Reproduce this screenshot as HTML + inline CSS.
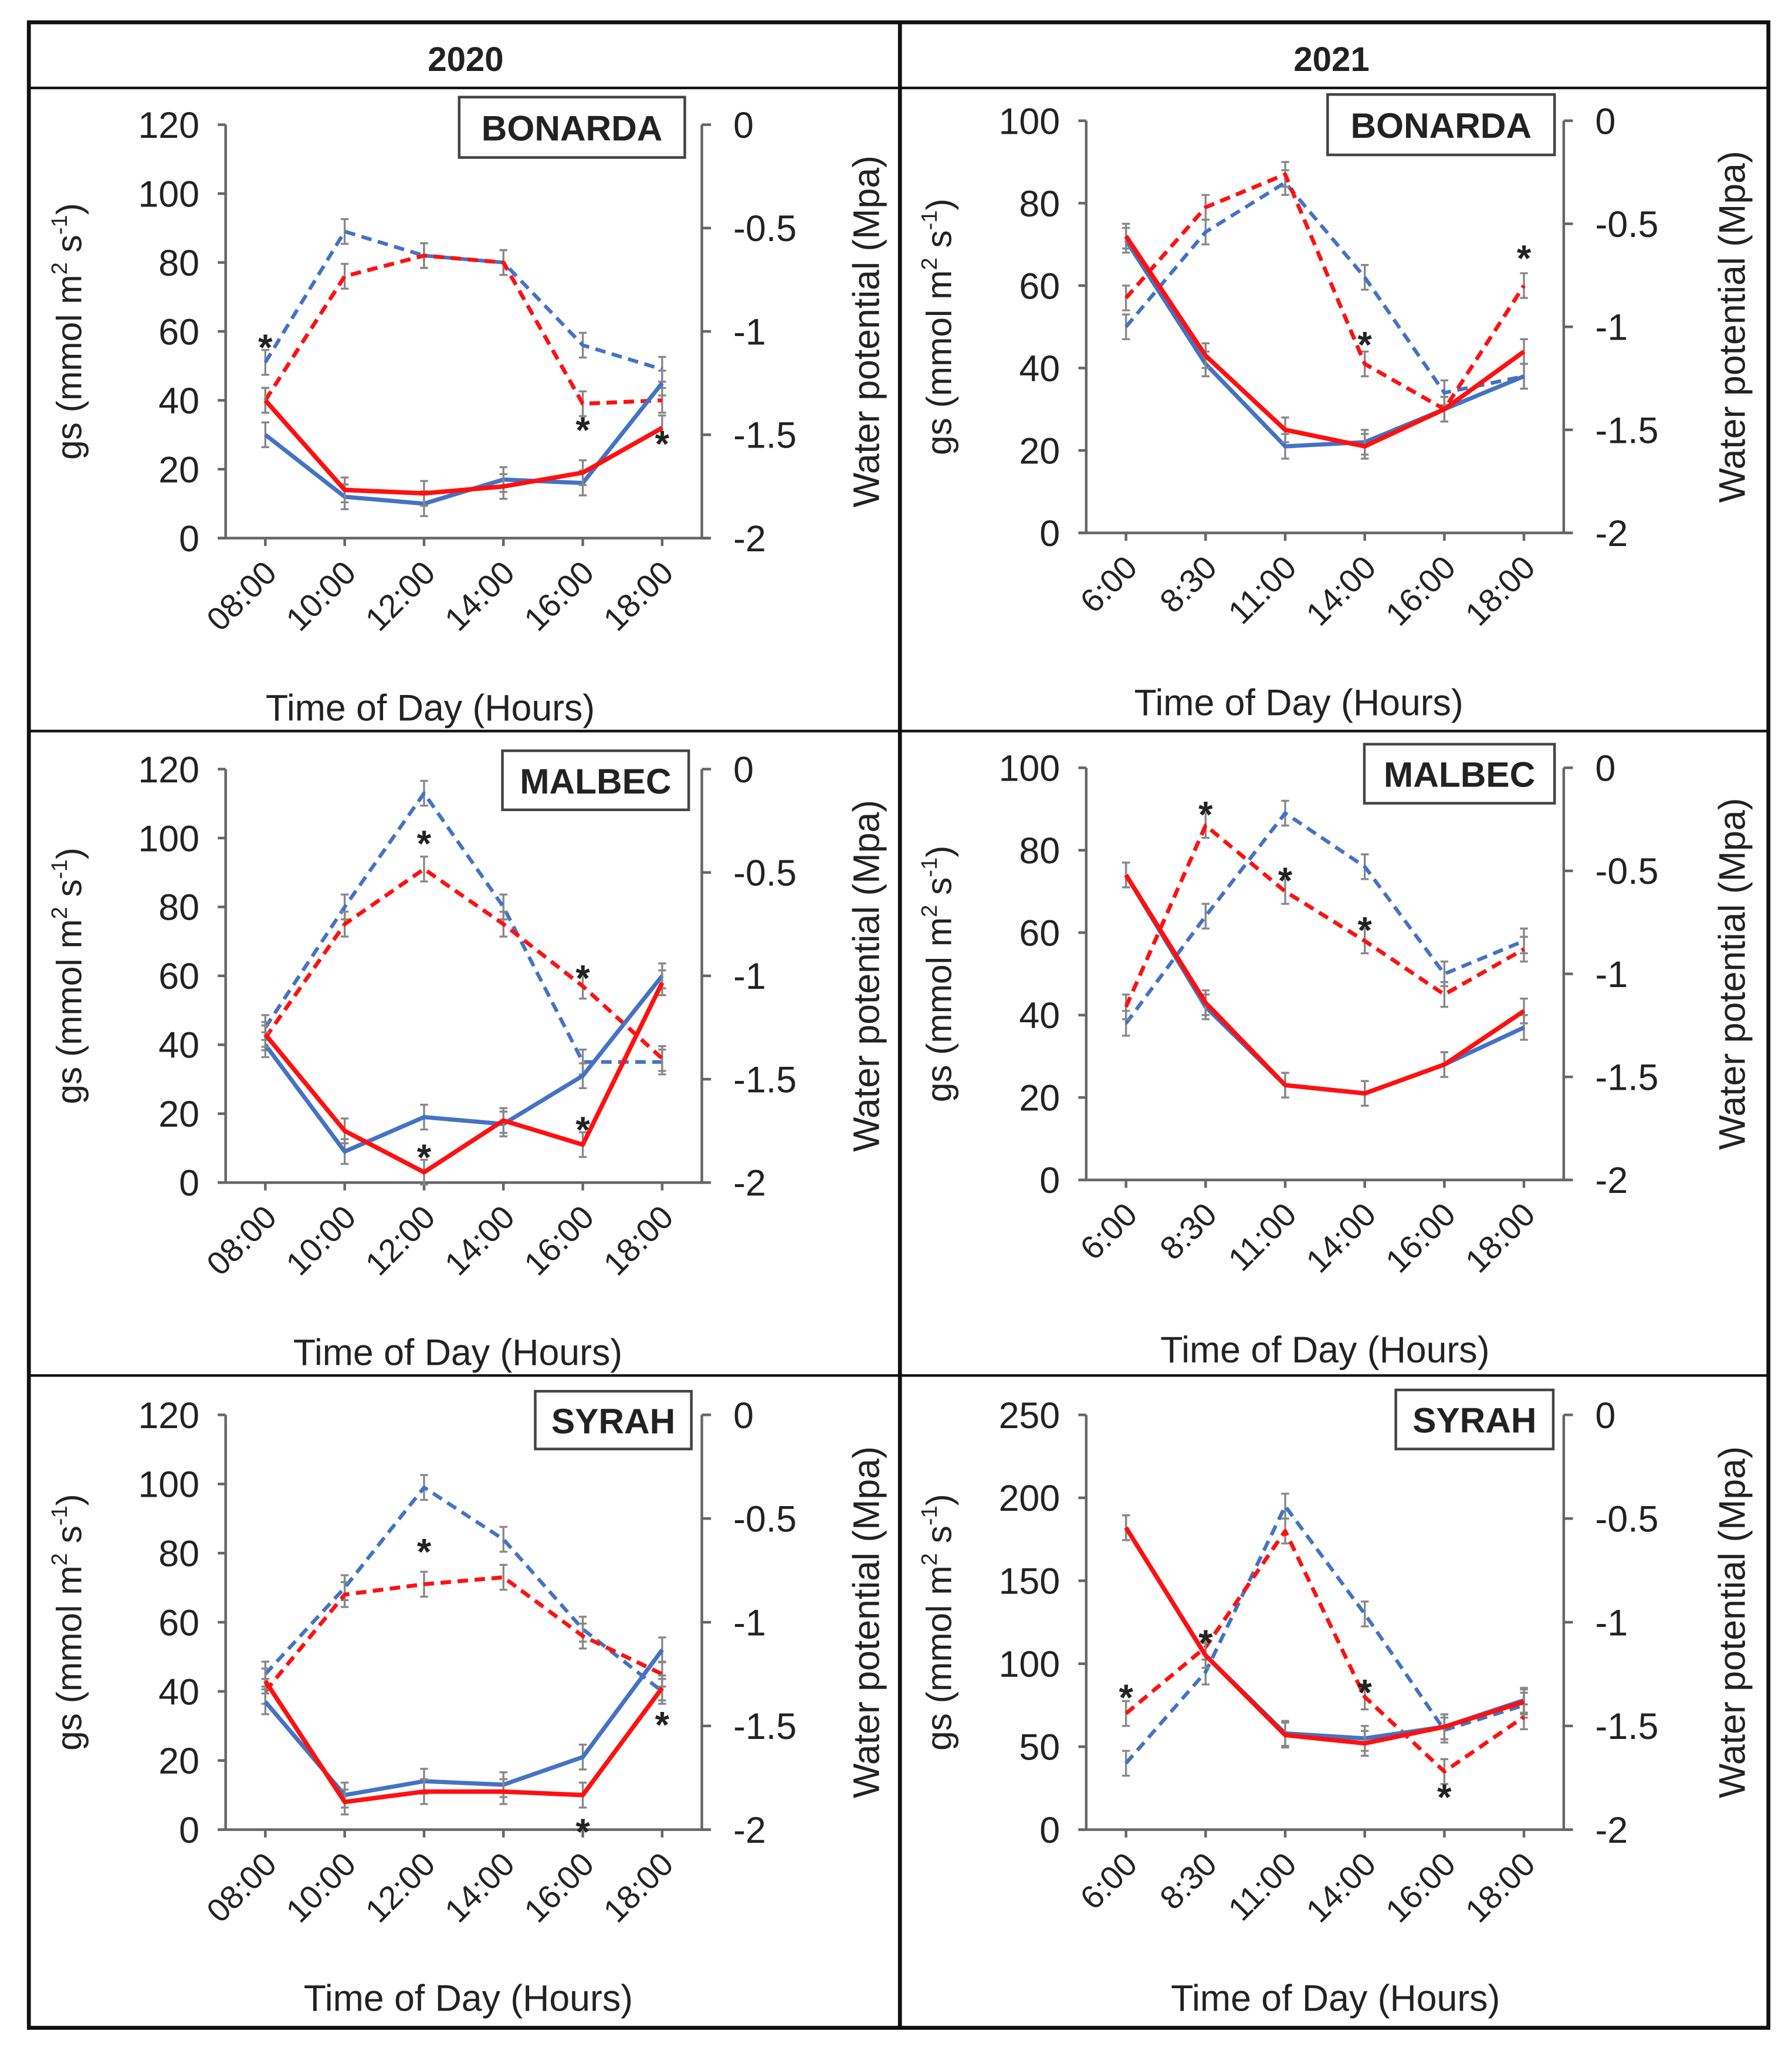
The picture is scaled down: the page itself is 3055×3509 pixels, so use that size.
<!DOCTYPE html>
<html><head><meta charset="utf-8"><style>
html,body{margin:0;padding:0;background:#fff;}
svg{display:block;}
text{font-family:"Liberation Sans",sans-serif;fill:#222;}
</style></head><body>
<svg id="fig" xmlns="http://www.w3.org/2000/svg" width="3055" height="3509" viewBox="0 0 1366 1568" preserveAspectRatio="none">
<rect x="0" y="0" width="1366" height="1568" fill="#fff"/>
<rect x="22" y="17" width="1326" height="1528" fill="none" stroke="#111" stroke-width="3"/>
<line x1="686" y1="17" x2="686" y2="1545" stroke="#111" stroke-width="3"/>
<line x1="22" y1="67" x2="1348" y2="67" stroke="#111" stroke-width="2"/>
<line x1="22" y1="557" x2="1348" y2="557" stroke="#111" stroke-width="2"/>
<line x1="22" y1="1048" x2="1348" y2="1048" stroke="#111" stroke-width="2"/>
<text x="355" y="54" font-size="26" font-weight="bold" text-anchor="middle">2020</text>
<text x="1015" y="54" font-size="26" font-weight="bold" text-anchor="middle">2021</text>
</svg>
<script>
const cats2020 = ["08:00","10:00","12:00","14:00","16:00","18:00"];
const cats2021 = ["6:00","8:30","11:00","14:00","16:00","18:00"];
const rightTicks = ["0","-0.5","-1","-1.5","-2"];

const bon20BlueDash = [51,89,82,80,56,49];
const bon20RedDash  = [40,76,82,80,39,40];
const bon20BlueSol  = [30,12,10,17,16,45];
const bon20RedSol   = [40,14,13,15,19,32];
const bon20Stars    = [[0,57],[4,33],[5,29]];

const bon21BlueDash = [50,73,85,62,34,38];
const bon21RedDash  = [57,79,87,41,30,60];
const bon21BlueSol  = [71,41,21,22,30,38];
const bon21RedSol   = [72,43,25,21,30,44];
const bon21Stars    = [[3,47],[5,68]];

const mal20BlueDash = [45,80,113,80,35,35];
const mal20RedDash  = [42,75,91,75,57,36];
const mal20BlueSol  = [40,9,19,17,31,60];
const mal20RedSol   = [43,15,3,18,11,58];
const mal20Stars    = [[2,100],[2,9],[4,61],[4,17]];

const mal21BlueDash = [38,64,89,76,50,58];
const mal21RedDash  = [42,86,70,58,45,56];
const mal21BlueSol  = [74,42,23,21,28,37];
const mal21RedSol   = [74,43,23,21,28,41];
const mal21Stars    = [[1,90],[2,74],[3,62]];

const syr20BlueDash = [45,70,99,84,58,40];
const syr20RedDash  = [40,68,71,73,56,45];
const syr20BlueSol  = [37,10,14,13,21,52];
const syr20RedSol   = [43,8,11,11,10,41];
const syr20Stars    = [[2,82],[4,1],[5,32]];

const syr21BlueDash = [40,95,195,130,60,75];
const syr21RedDash  = [70,110,180,80,35,68];
const syr21BlueSol  = [182,105,58,55,62,78];
const syr21RedSol   = [182,105,57,52,62,77];
const syr21Stars    = [[0,83],[1,116],[3,86],[4,23]];

const ticks120 = [0,20,40,60,80,100,120];
const ticks100 = [0,20,40,60,80,100];
const ticks250 = [0,50,100,150,200,250];

const panels = [
 {id:"bonarda-2020",name:"BONARDA",cats:cats2020,ticks:ticks120,x0:172,x1:535,yb:410,yt:95,box:[350,74,172,46],title:540,tx:328,lt:62,rt:660,s:[bon20BlueDash,bon20RedDash,bon20BlueSol,bon20RedSol],stars:bon20Stars},
 {id:"bonarda-2021",name:"BONARDA",cats:cats2021,ticks:ticks100,x0:828,x1:1192,yb:406,yt:92,box:[1012,72,173,46],title:536,tx:990,lt:725,rt:1320,s:[bon21BlueDash,bon21RedDash,bon21BlueSol,bon21RedSol],stars:bon21Stars},
 {id:"malbec-2020",name:"MALBEC",cats:cats2020,ticks:ticks120,x0:172,x1:535,yb:901,yt:586,box:[383,572,142,45],title:1031,tx:349,lt:62,rt:660,s:[mal20BlueDash,mal20RedDash,mal20BlueSol,mal20RedSol],stars:mal20Stars},
 {id:"malbec-2021",name:"MALBEC",cats:cats2021,ticks:ticks100,x0:828,x1:1192,yb:899,yt:585,box:[1040,567,145,45],title:1029,tx:1010,lt:725,rt:1320,s:[mal21BlueDash,mal21RedDash,mal21BlueSol,mal21RedSol],stars:mal21Stars},
 {id:"syrah-2020",name:"SYRAH",cats:cats2020,ticks:ticks120,x0:172,x1:535,yb:1394,yt:1078,box:[408,1060,119,44],title:1523,tx:357,lt:62,rt:660,s:[syr20BlueDash,syr20RedDash,syr20BlueSol,syr20RedSol],stars:syr20Stars},
 {id:"syrah-2021",name:"SYRAH",cats:cats2021,ticks:ticks250,x0:828,x1:1192,yb:1394,yt:1078,box:[1064,1059,120,45],title:1523,tx:1018,lt:725,rt:1320,s:[syr21BlueDash,syr21RedDash,syr21BlueSol,syr21RedSol],stars:syr21Stars}
];
const seriesStyle = [
 {c:"#4472C4",d:"8,5",w:2.8,n:"blue-dashed"},
 {c:"#FF1010",d:"8,5",w:3,n:"red-dashed"},
 {c:"#4472C4",d:"",w:3.2,n:"blue-solid"},
 {c:"#FF1010",d:"",w:3.4,n:"red-solid"}
];
const NS="http://www.w3.org/2000/svg";
const svg=document.getElementById("fig");
function mk(tag,attrs,parent){const e=document.createElementNS(NS,tag);for(const k in attrs)e.setAttribute(k,attrs[k]);(parent||svg).appendChild(e);return e;}

panels.forEach(p=>{
 const g=mk("g",{});
 
 
 const max=p.ticks[p.ticks.length-1];
 const n=p.cats.length, bw=(p.x1-p.x0)/n;
 const xs=i=>p.x0+bw*(i+0.5);
 const ys=v=>p.yb-(v/max)*(p.yb-p.yt);
 const la=mk("line",{x1:p.x0,y1:p.yt,x2:p.x0,y2:p.yb,stroke:"#666","stroke-width":2},g);
 
 
 const ra=mk("line",{x1:p.x1,y1:p.yt,x2:p.x1,y2:p.yb,stroke:"#666","stroke-width":2},g);
 
 
 const xa=mk("line",{x1:p.x0-6,y1:p.yb,x2:p.x1+6,y2:p.yb,stroke:"#666","stroke-width":2},g);
 
 
 p.ticks.forEach(t=>{
  mk("line",{x1:p.x0-6,y1:ys(t),x2:p.x0,y2:ys(t),stroke:"#666","stroke-width":2},g);
  const tl=mk("text",{x:p.x0-20,y:ys(t)+10,"font-size":28,"text-anchor":"end"},g);
  tl.textContent=t;
  
  
 });
 rightTicks.forEach((t,i)=>{
  const y=p.yt+i*(p.yb-p.yt)/(rightTicks.length-1);
  mk("line",{x1:p.x1,y1:y,x2:p.x1+7,y2:y,stroke:"#666","stroke-width":2},g);
  const tl=mk("text",{x:p.x1+24,y:y+10,"font-size":28},g);
  tl.textContent=t;
  
  
 });
 p.cats.forEach((c,i)=>{
  const x=xs(i);
  mk("line",{x1:x,y1:p.yb,x2:x,y2:p.yb+6,stroke:"#666","stroke-width":2},g);
  const tl=mk("text",{x:x+10,y:p.yb+28,"font-size":25,"text-anchor":"end",transform:`rotate(-45 ${x+10} ${p.yb+28})`},g);
  tl.textContent=c;
  
  
 });
 const cy=(p.yt+p.yb)/2;
 const lt=mk("text",{x:p.lt,y:cy,"font-size":27,"text-anchor":"middle",transform:`rotate(-90 ${p.lt} ${cy})`},g);
 lt.innerHTML='gs (mmol m<tspan font-size="17" dy="-11">2</tspan><tspan dy="11"> s</tspan><tspan font-size="17" dy="-11">-1</tspan><tspan dy="11">)</tspan>';
 
 
 const rt=mk("text",{x:p.rt+10,y:cy,"font-size":28,"text-anchor":"middle",transform:`rotate(-90 ${p.rt+10} ${cy})`},g);
 rt.textContent="Water potential (Mpa)";
 
 
 const xt=mk("text",{x:p.tx,y:p.title+9,"font-size":28,"text-anchor":"middle"},g);
 xt.textContent="Time of Day (Hours)";
 
 
 const b=p.box;
 const br=mk("rect",{x:b[0],y:b[1],width:b[2],height:b[3],fill:"#fff",stroke:"#444","stroke-width":2},g);
 
 
 const bt=mk("text",{x:b[0]+b[2]/2,y:b[1]+b[3]/2+10,"font-size":27,"font-weight":"bold","text-anchor":"middle"},g);
 bt.textContent=p.name;
 
 
 p.s.forEach((vals,si)=>{
  const st=seriesStyle[si];
  const err=max*0.03;
  vals.forEach((v,i)=>{
   const x=xs(i);
   const e=mk("path",{d:`M${x} ${ys(v-err)}V${ys(v+err)}M${x-3} ${ys(v-err)}h6M${x-3} ${ys(v+err)}h6`,stroke:"#888","stroke-width":1.5,fill:"none"},g);
   
   
  });
  const pts=vals.map((v,i)=>xs(i)+","+ys(v)).join(" ");
  const pl=mk("polyline",{points:pts,fill:"none",stroke:st.c,"stroke-width":st.w,"stroke-dasharray":st.d,"stroke-linejoin":"round"},g);
  
  
 });
 p.stars.forEach(s=>{
  const t=mk("text",{x:xs(s[0]),y:ys(s[1])+14,"font-size":28,"font-weight":"bold","text-anchor":"middle"},g);
  t.textContent="*";
  
  
 });
});
</script>
</body></html>
